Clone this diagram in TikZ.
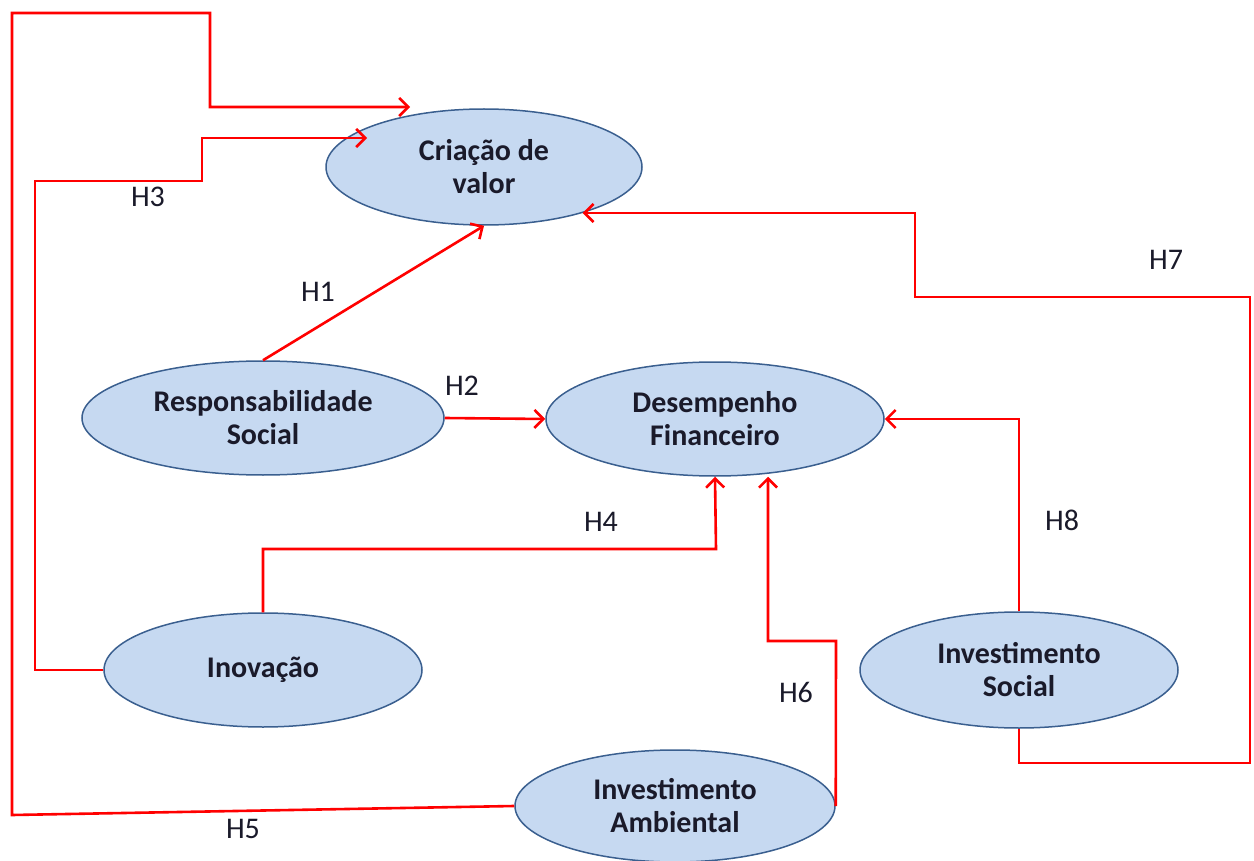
\documentclass[tikz,border=0pt]{standalone}
\usepackage{fontspec}
\setmainfont{Carlito}
\usetikzlibrary{shapes.geometric,arrows.meta}
\definecolor{efill}{HTML}{C6D9F1}
\definecolor{edraw}{HTML}{3A5F8F}
\definecolor{tred}{HTML}{FF0000}
\definecolor{ttext}{HTML}{1A1A2A}
\begin{document}
\begin{tikzpicture}[x=1pt,y=-1pt,
  ent/.style={ellipse, draw=edraw, fill=efill, line width=1.5pt, inner sep=0pt,
    align=center, text=ttext, font=\fontsize{30}{33}\selectfont\bfseries},
  conn/.style={draw=tred, line width=2.6pt, line join=miter,
    -{Straight Barb[length=9pt,width=18pt,line width=2.6pt]}},
  plain/.style={draw=tred, line width=2.6pt},
  hl/.style={font=\fontsize{30}{33}\selectfont, text=ttext, inner sep=0pt}]
\useasboundingbox (0,0) rectangle (1254,861);
% nodes
\node[ent, minimum width=316pt, minimum height=116pt] (cri) at (484,167) {Criação de\\valor};
\node[ent, minimum width=362pt, minimum height=114pt] (resp) at (263,418) {Responsabilidade\\Social};
\node[ent, minimum width=338pt, minimum height=114pt] (des) at (715,419) {Desempenho\\Financeiro};
\node[ent, minimum width=318pt, minimum height=114pt] (ino) at (263,670) {Inovação};
\node[ent, minimum width=318pt, minimum height=116pt] (soc) at (1019,670) {Investimento\\Social};
\node[ent, minimum width=320pt, minimum height=112pt] (amb) at (675,806) {Investimento\\Ambiental};
% corner coordinates
\coordinate (h5a) at (12,815);
\coordinate (h5b) at (210,13);
\coordinate (h5t) at (410,107);
\coordinate (h3a) at (35,181);
\coordinate (h3b) at (202,138);
\coordinate (h3t) at (367,138);
\coordinate (h4a) at (716,549);
\coordinate (h6a) at (836,641);
\coordinate (h6b) at (768,641);
\coordinate (h7a) at (1250,763);
\coordinate (h7b) at (915,297);
% connectors
\draw[conn] (resp.north) -- (cri.south);
\draw[conn] (resp.east) -- (des.west);
\draw[conn] (amb.west) -- (h5a) |- (h5b) |- (h5t);
\draw[conn] (ino.west) -| (h3a) -| (h3b) -- (h3t);
\draw[conn] (ino.north) |- (h4a) -- (des.south);
\draw[conn] (amb.east) -- (h6a) -- (h6b) -- (h6b |- des.south);
\draw[conn] (soc.north) |- (des.east);
\draw[conn] (soc.south) |- (h7a) |- (h7b) |- (cri.-25.6);
% labels
\node[hl] (l1) at (318,292) {H1};
\node[hl] (l2) at (462,386) {H2};
\node[hl] (l3) at (148,197) {H3};
\node[hl] (l4) at (601,522) {H4};
\node[hl] (l5) at (243,829) {H5};
\node[hl] (l6) at (796,692) {H6};
\node[hl] (l7) at (1166,260) {H7};
\node[hl] (l8) at (1062,520) {H8};
\end{tikzpicture}
\end{document}
